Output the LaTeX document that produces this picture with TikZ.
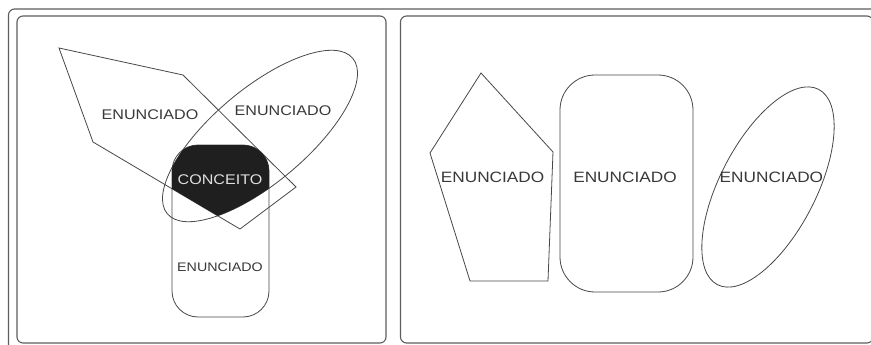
\documentclass[tikz,border=0pt]{standalone}
\usepackage{fontspec}
\newfontfamily\rotulo[FakeStretch=1.15]{Liberation Sans}
\usetikzlibrary{positioning}

\definecolor{linha}{HTML}{474747}
\definecolor{moldura}{HTML}{5C5C5C}
\definecolor{texto}{HTML}{383838}
\definecolor{mancha}{HTML}{1F1F1F}

\tikzset{
  quadro/.style={draw=moldura, line width=1.1pt, rounded corners=6pt},
  forma/.style={draw=linha, line width=0.8pt},
  enunciado/.style={inner sep=0pt, text=texto, font={\rotulo\fontsize{14pt}{16pt}\selectfont}},
  grande/.style={enunciado, font={\rotulo\fontsize{15pt}{17pt}\selectfont}},
  miudo/.style={enunciado, font={\rotulo\fontsize{12.4pt}{14pt}\selectfont}},
}

\begin{document}
\begin{tikzpicture}[x=1pt,y=-1pt]
  \useasboundingbox (0,0) rectangle (871,345);

  \draw[quadro] (8.5,9) rectangle (900,400);
  \draw[quadro] (17,16) rectangle (386,343);
  \draw[quadro] (400.5,16) rectangle (873,343);

  \draw[forma] (59,48) -- (183,75) -- (296,187) -- (240,229) -- (93,142) -- cycle;
  \draw[forma, rotate around={40:(260,136)}] (260,136) ellipse [x radius=121, y radius=47];
  \draw[forma, rounded corners=26pt] (172,145) rectangle (269,317);

  \begin{scope}
    \clip[rounded corners=26pt] (172,145) rectangle (269,317);
    \clip[rotate around={40:(260,136)}] (260,136) ellipse [x radius=121, y radius=47];
    \clip (93,142) -- (240,229) -- (400,100) -- (150,0) -- (0,60) -- cycle;
    \fill[mancha] (150,130) rectangle (300,240);
  \end{scope}

  \node[enunciado] (poligono) at (150,115) {ENUNCIADO};
  \node[enunciado] (elipse) at (283,111) {ENUNCIADO};
  \node[enunciado, text=white!88!black] (conceito) at (220,180) {CONCEITO};
  \node[miudo] (caixa) at (220,267) {ENUNCIADO};

  \draw[forma] (481,73) -- (553,152) -- (548,281) -- (470,281) -- (430,153) -- cycle;
  \draw[forma, rounded corners=35pt] (560,75) rectangle (693,292);
  \draw[forma, rotate around={62.6:(768,187)}] (768,187) ellipse [x radius=110, y radius=48];

  \node[grande] (meio) at (625,177) {ENUNCIADO};
  \node[grande, left=28.5pt of meio] (pentagono) {ENUNCIADO};
  \node[grande, right=42.5pt of meio] (oval) {ENUNCIADO};

\end{tikzpicture}
\end{document}
